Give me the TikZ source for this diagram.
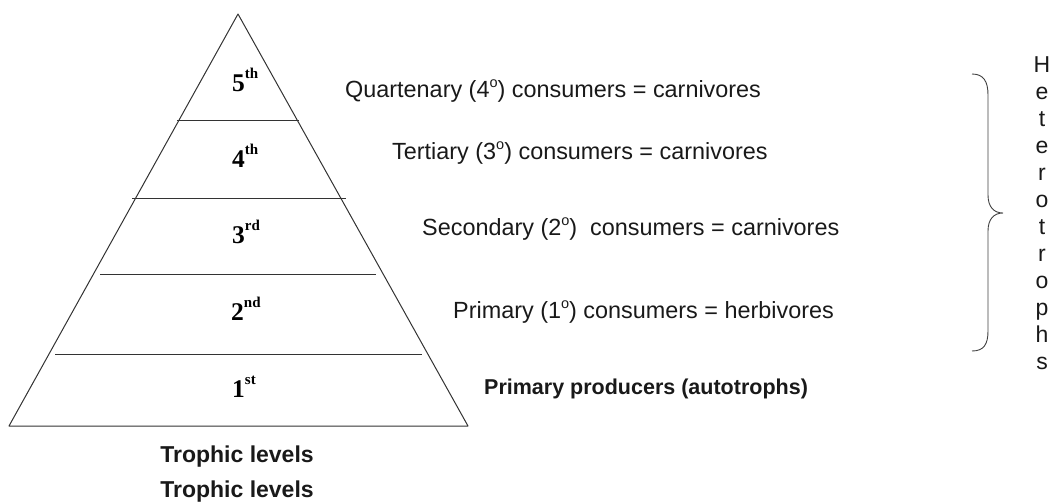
\documentclass[tikz,border=0pt]{standalone}
\usepackage{fontspec}
\setmainfont{Liberation Serif}
\newfontfamily\arialfam{Liberation Sans}
\newcommand{\ordsup}[1]{\raisebox{13pt}{\fontsize{15}{15}\selectfont #1}}
\newcommand{\degsup}{\raisebox{10pt}{\fontsize{14.5}{14.5}\selectfont o}}
\begin{document}
\begin{tikzpicture}[x=1pt,y=-1pt,
  edge/.style={draw=black!80,line width=1pt},
  lvl/.style={anchor=base west,inner sep=0pt,font=\fontsize{25.5}{25.5}\selectfont\bfseries},
  role/.style={anchor=base west,inner sep=0pt,font=\arialfam\fontsize{23.4}{23.4}\selectfont,text=black!90},
  rolebold/.style={role,font=\arialfam\fontsize{21.5}{21.5}\selectfont\bfseries},
  caption/.style={anchor=base,inner sep=0pt,font=\arialfam\fontsize{23}{23}\selectfont\bfseries,text=black!90}]
\useasboundingbox (0,0) rectangle (1050,501);

% pyramid outline
\coordinate (apex) at (238,14);
\coordinate (bl) at (9,426);
\coordinate (br) at (468,426);
\draw[edge,line join=round] (apex) -- (br) -- (bl) -- cycle;

% dividers between the trophic levels
\coordinate (d1l) at (177,120); \coordinate (d1r) at (299,120);
\coordinate (d2l) at (132,198); \coordinate (d2r) at (346,198);
\coordinate (d3l) at (100,274); \coordinate (d3r) at (376,274);
\coordinate (d4l) at (55,354);  \coordinate (d4r) at (422,354);
\draw[edge] (d1l) -- (d1r);
\draw[edge] (d2l) -- (d2r);
\draw[edge] (d3l) -- (d3r);
\draw[edge] (d4l) -- (d4r);

% level numbers
\node[lvl] (l5) at (232,91) {5\ordsup{th}};
\node[lvl] (l4) at (232,167) {4\ordsup{th}};
\node[lvl] (l3) at (232,243) {3\ordsup{rd}};
\node[lvl] (l2) at (231,320) {2\ordsup{nd}};
\node[lvl] (l1) at (232,397) {1\ordsup{st}};

% roles of each level
\node[role] (r5) at (345,97) {Quartenary (4\degsup) consumers = carnivores};
\node[role] (r4) at (392,159) {Tertiary (3\degsup) consumers = carnivores};
\node[role] (r3) at (422,235) {Secondary (2\degsup)\ \ consumers = carnivores};
\node[role] (r2) at (453,318) {Primary (1\degsup) consumers = herbivores};
\node[rolebold] (r1) at (484,394) {Primary producers (autotrophs)};

% captions
\node[caption] (cap1) at (237,462) {Trophic levels};
\node[caption] (cap2) at (237,497) {Trophic levels};

% brace grouping the consumers
\draw[draw=black!75,line width=0.9pt]
  (972,74) .. controls (984,74) and (988,82) .. (988,95) -- (988,195)
  .. controls (988,207) and (994,213) .. (1003,213)
  .. controls (994,213) and (988,219) .. (988,231) -- (988,331)
  .. controls (988,344) and (984,351) .. (972,351);

% vertical label
\node[anchor=north,inner sep=0pt,align=center,text=black!90,
  font=\arialfam\fontsize{23}{27}\selectfont] (het) at (1042,56)
  {H\\e\\t\\e\\r\\o\\t\\r\\o\\p\\h\\s};
\end{tikzpicture}
\end{document}
